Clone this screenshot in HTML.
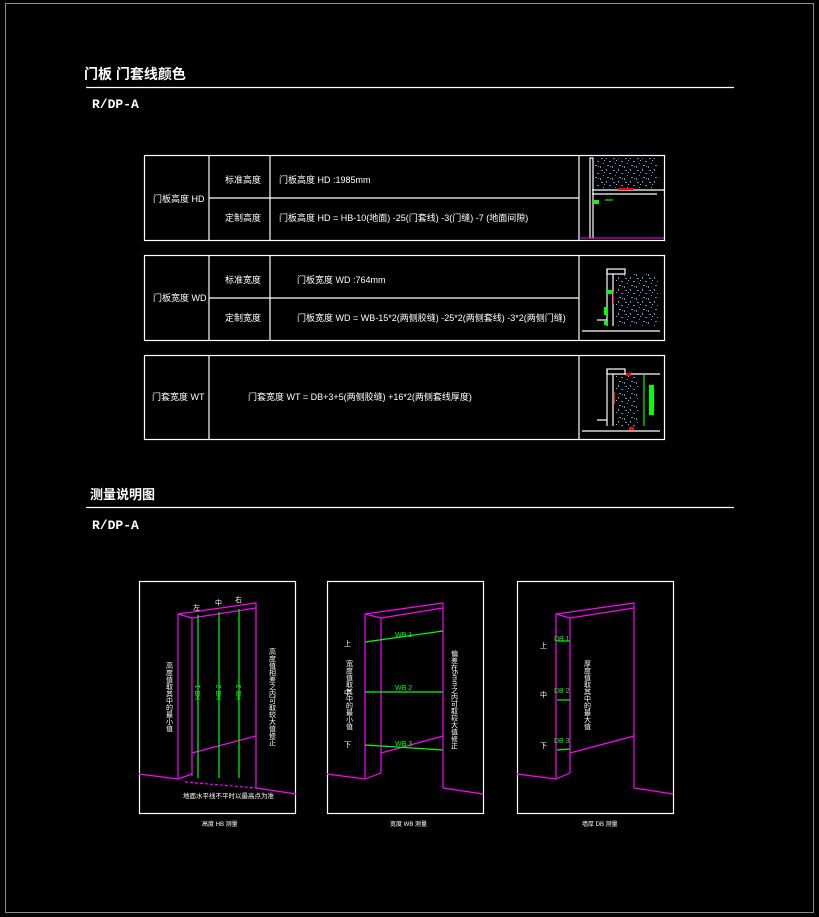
<!DOCTYPE html>
<html><head><meta charset="utf-8"><style>
html,body{margin:0;padding:0;background:#000;}
svg{display:block;}
text{font-family:"Liberation Sans","Noto Sans CJK SC",sans-serif;fill:#fff;}
.w{stroke:#fff;stroke-width:1.2;fill:none;}
.m{stroke:#ff00ff;stroke-width:1.2;fill:none;}
.g{stroke:#00ff00;stroke-width:1.2;fill:none;}
</style></head><body>
<svg width="819" height="917" viewBox="0 0 819 917" xmlns="http://www.w3.org/2000/svg">
<defs>
<pattern id="sp" width="12" height="12" patternUnits="userSpaceOnUse">
<rect width="12" height="12" fill="#000"/>
<rect x="1" y="2" width="2" height="1" fill="#5b8fd6"/><rect x="6" y="1" width="1" height="2" fill="#5b8fd6"/>
<rect x="9" y="5" width="2" height="1" fill="#5b8fd6"/><rect x="3" y="7" width="1" height="1" fill="#5b8fd6"/>
<rect x="7" y="9" width="2" height="1" fill="#5b8fd6"/><rect x="0" y="10" width="1" height="2" fill="#5b8fd6"/>
<rect x="4" y="4" width="1" height="1" fill="#9bc"/><rect x="10" y="10" width="1" height="1" fill="#5b8fd6"/>
</pattern>
</defs>
<rect x="5.5" y="3.5" width="808" height="909" fill="none" stroke="#888" stroke-width="1"/>

<text x="84" y="79" font-size="14" font-weight="bold">门板 门套线颜色</text>
<line x1="86" y1="87.5" x2="734" y2="87.5" stroke="#fff" stroke-width="1.2"/>
<text x="92" y="108" font-size="13" style="font-family:'Liberation Mono',monospace" font-weight="bold">R/DP-A</text>

<!-- table 1 -->
<rect class="w" x="144.5" y="155.5" width="520" height="85"/>
<line class="w" x1="209" y1="155" x2="209" y2="240"/>
<line class="w" x1="270" y1="155" x2="270" y2="240"/>
<line class="w" x1="579" y1="155" x2="579" y2="240"/>
<line class="w" x1="209" y1="198" x2="579" y2="198"/>
<text x="153" y="202" font-size="9">门板高度 HD</text>
<text x="225" y="183" font-size="9">标准高度</text>
<text x="225" y="221" font-size="9">定制高度</text>
<text x="279" y="183" font-size="9">门板高度  HD :1985mm</text>
<text x="279" y="221" font-size="9">门板高度  HD = HB-10(地面) -25(门套线) -3(门缝) -7 (地面间隙)</text>
<rect x="595" y="158" width="62" height="30" fill="url(#sp)"/>
<rect class="w" x="590" y="158" width="3" height="80"/>
<line class="w" x1="592" y1="190" x2="664" y2="190"/>
<line class="w" x1="592" y1="194" x2="657" y2="194"/>
<rect x="618" y="188" width="16" height="2" fill="#f00"/>
<rect x="594" y="200" width="5" height="4" fill="#0f0"/>
<line class="g" x1="605" y1="200" x2="613" y2="200"/>
<line x1="579" y1="238" x2="664" y2="238" stroke="#f0f" stroke-width="1"/>

<!-- table 2 -->
<rect class="w" x="144.5" y="255.5" width="520" height="85"/>
<line class="w" x1="209" y1="255" x2="209" y2="340"/>
<line class="w" x1="270" y1="255" x2="270" y2="340"/>
<line class="w" x1="579" y1="255" x2="579" y2="340"/>
<line class="w" x1="209" y1="298" x2="579" y2="298"/>
<text x="153" y="301" font-size="9">门板宽度 WD</text>
<text x="225" y="283" font-size="9">标准宽度</text>
<text x="225" y="321" font-size="9">定制宽度</text>
<text x="297" y="283" font-size="9">门板宽度  WD :764mm</text>
<text x="297" y="321" font-size="9">门板宽度  WD = WB-15*2(两侧胶缝) -25*2(两侧套线) -3*2(两侧门缝)</text>
<rect x="616" y="274" width="42" height="52" fill="url(#sp)"/>
<rect class="w" x="607" y="269" width="18" height="5"/>
<line class="w" x1="607" y1="269" x2="607" y2="326"/>
<line class="w" x1="613" y1="274" x2="613" y2="326"/>
<line class="w" x1="597" y1="320" x2="607" y2="320"/>
<line class="w" x1="582" y1="331" x2="660" y2="331"/>
<rect x="613" y="292" width="1" height="12" fill="#f00"/>
<rect x="607" y="290" width="5" height="4" fill="#0f0"/>
<rect x="604" y="307" width="4" height="8" fill="#0f0"/>
<rect x="604" y="321" width="4" height="4" fill="#0f0"/>

<!-- table 3 -->
<rect class="w" x="144.5" y="355.5" width="520" height="84"/>
<line class="w" x1="209" y1="355" x2="209" y2="440"/>
<line class="w" x1="579" y1="355" x2="579" y2="440"/>
<text x="152" y="400" font-size="9">门套宽度 WT</text>
<text x="248" y="400" font-size="9">门套宽度  WT = DB+3+5(两侧胶缝)  +16*2(两侧套线厚度)</text>
<rect x="616" y="374" width="22" height="52" fill="url(#sp)"/>
<rect class="w" x="607" y="369" width="18" height="5"/>
<line class="w" x1="607" y1="369" x2="607" y2="426"/>
<line class="w" x1="613" y1="374" x2="613" y2="426"/>
<line class="w" x1="625" y1="374" x2="660" y2="374"/>
<line class="w" x1="582" y1="431" x2="660" y2="431"/>
<line class="w" x1="597" y1="420" x2="607" y2="420"/>
<rect x="626" y="373" width="5" height="3" fill="#f00"/>
<rect x="629" y="427" width="5" height="3" fill="#f00"/>
<rect x="614" y="392" width="1" height="12" fill="#f00"/>
<line class="g" x1="644" y1="375" x2="644" y2="426"/>
<rect x="649" y="385" width="5" height="30" fill="#0f0"/>

<text x="90" y="499" font-size="13" font-weight="bold">测量说明图</text>
<line x1="86" y1="507.5" x2="734" y2="507.5" stroke="#fff" stroke-width="1.2"/>
<text x="92" y="529" font-size="13" style="font-family:'Liberation Mono',monospace" font-weight="bold">R/DP-A</text>

<!-- panel 1 -->
<rect class="w" x="139.5" y="581.5" width="156" height="232"/>
<polyline class="m" points="139,774 178,779"/>
<polyline class="m" points="256,788 296,794"/>
<polyline class="m" points="178,779 178,614 256,603 256,788"/>
<polyline class="m" points="192,776 192,618 256,608"/>
<line class="m" x1="178" y1="614" x2="192" y2="618"/>
<line class="m" x1="192" y1="753" x2="256" y2="736"/>
<line class="m" x1="178" y1="779" x2="192" y2="774"/>
<line class="m" x1="185" y1="782" x2="256" y2="788" stroke-dasharray="3,2"/>
<line class="g" x1="198" y1="615" x2="198" y2="778"/>
<line class="g" x1="219" y1="612" x2="219" y2="778"/>
<line class="g" x1="239" y1="609" x2="239" y2="778"/>
<text x="193" y="610" font-size="7">左</text><text x="215" y="605" font-size="7">中</text><text x="235" y="602" font-size="7">右</text>
<text x="194" y="700" font-size="7" style="fill:#0f0" transform="rotate(-90 197 697)">HB 1</text>
<text x="215" y="700" font-size="7" style="fill:#0f0" transform="rotate(-90 218 697)">HB 2</text>
<text x="235" y="700" font-size="7" style="fill:#0f0" transform="rotate(-90 238 697)">HB 3</text>
<text font-size="7" writing-mode="tb" x="169" y="662">高度值取其中的最小值</text>
<text font-size="7" writing-mode="tb" x="272" y="648">高度值相差之内可取较大值修正</text>
<text x="183" y="798" font-size="6.5">地面水平线不平时以最高点为准</text>
<text x="202" y="826" font-size="6">高度 HB 测量</text>

<!-- panel 2 -->
<rect class="w" x="327.5" y="581.5" width="156" height="232"/>
<polyline class="m" points="327,774 365,779"/>
<polyline class="m" points="443,788 483,794"/>
<polyline class="m" points="365,779 365,614 443,603 443,788"/>
<polyline class="m" points="381,773 381,618 443,608"/>
<line class="m" x1="365" y1="614" x2="381" y2="618"/>
<line class="m" x1="381" y1="753" x2="443" y2="736"/>
<line class="m" x1="365" y1="779" x2="381" y2="773"/>
<line class="g" x1="365" y1="642" x2="443" y2="631"/>
<line class="g" x1="365" y1="692" x2="443" y2="692"/>
<line class="g" x1="365" y1="745" x2="443" y2="750"/>
<text x="395" y="637" font-size="7" style="fill:#0f0">WB 1</text>
<text x="395" y="690" font-size="7" style="fill:#0f0">WB 2</text>
<text x="395" y="746" font-size="7" style="fill:#0f0">WB 3</text>
<text x="344" y="646" font-size="7">上</text><text x="344" y="695" font-size="7">中</text><text x="344" y="747" font-size="7">下</text>
<text font-size="7" writing-mode="tb" x="349" y="660">宽度值取其中的最小值</text>
<text font-size="7" writing-mode="tb" x="454" y="650">偏差在5mm之内可取较大值修正</text>
<text x="390" y="826" font-size="6">宽度 WB 测量</text>

<!-- panel 3 -->
<rect class="w" x="517.5" y="581.5" width="156" height="232"/>
<polyline class="m" points="517,774 556,779"/>
<polyline class="m" points="634,788 673,794"/>
<polyline class="m" points="556,779 556,614 634,603 634,788"/>
<polyline class="m" points="570,773 570,618 634,608"/>
<line class="m" x1="556" y1="614" x2="570" y2="618"/>
<line class="m" x1="570" y1="753" x2="634" y2="736"/>
<line class="m" x1="556" y1="779" x2="570" y2="773"/>
<text x="554" y="641" font-size="7" style="fill:#0f0">DB 1</text>
<text x="554" y="693" font-size="7" style="fill:#0f0">DB 2</text>
<text x="554" y="743" font-size="7" style="fill:#0f0">DB 3</text>
<line class="g" x1="557" y1="641" x2="570" y2="641"/>
<line class="g" x1="557" y1="700" x2="570" y2="700"/>
<line class="g" x1="557" y1="750" x2="570" y2="749"/>
<text x="540" y="648" font-size="7">上</text><text x="540" y="697" font-size="7">中</text><text x="540" y="748" font-size="7">下</text>
<text font-size="7" writing-mode="tb" x="587" y="660">厚度值取其中的最大值</text>
<text x="582" y="826" font-size="6">墙厚 DB 测量</text>
</svg>
</body></html>
